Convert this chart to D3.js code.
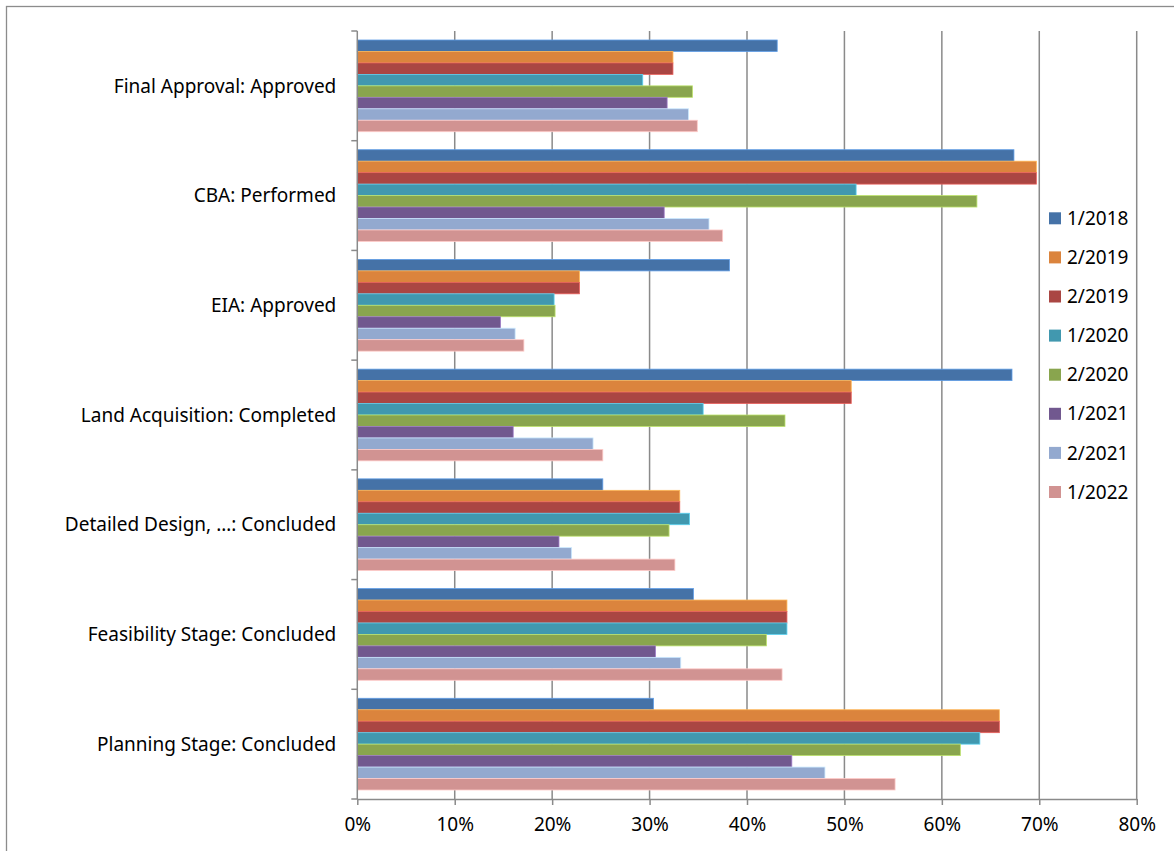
<!DOCTYPE html>
<html>
<head>
<meta charset="utf-8">
<script src="https://d3js.org/d3.v7.min.js"></script>
<style>
  body { margin: 0; background: #fff; }
  svg { display: block; font-family: "Noto Sans", sans-serif; }
</style>
</head>
<body>
<svg id="chart" width="1174" height="851"></svg>
<script>
// categories top to bottom
var categories = [
  "Final Approval: Approved",
  "CBA: Performed",
  "EIA: Approved",
  "Land Acquisition: Completed",
  "Detailed Design, …: Concluded",
  "Feasibility Stage: Concluded",
  "Planning Stage: Concluded"
];
var seriesNames = ["1/2018", "2/2019", "2/2019", "1/2020", "2/2020", "1/2021", "2/2021", "1/2022"];
var seriesColors = ["#4572A7", "#DB843D", "#AA4643", "#4198AF", "#89A54E", "#71588F", "#93A9CF", "#D19392"];

// percent values, one array per series, in category order
var s2018a = [43.1, 67.4, 38.2, 67.2, 25.2, 34.5, 30.4];
var s2019b = [32.4, 69.7, 22.8, 50.7, 33.1, 44.1, 65.9];
var s2019c = [32.4, 69.7, 22.8, 50.7, 33.1, 44.1, 65.9];
var s2020a = [29.3, 51.2, 20.2, 35.5, 34.1, 44.1, 63.9];
var s2020b = [34.4, 63.6, 20.3, 43.9, 32.0, 42.0, 61.9];
var s2021a = [31.8, 31.5, 14.7, 16.0, 20.7, 30.6, 44.6];
var s2021b = [34.0, 36.1, 16.2, 24.2, 22.0, 33.2, 48.0];
var s2022a = [34.9, 37.5, 17.1, 25.2, 32.6, 43.6, 55.2];
var seriesValues = [s2018a, s2019b, s2019c, s2020a, s2020b, s2021a, s2021b, s2022a];
var xTicks = [0, 10, 20, 30, 40, 50, 60, 70, 80];

var svg = d3.select("#chart");

// outer chart border
svg.append("rect")
  .attr("x", 6.5).attr("y", 6.5)
  .attr("width", 1200).attr("height", 900)
  .attr("fill", "none").attr("stroke", "#8c8c8c").attr("stroke-width", 1.3);

var plotLeft = 357.3, plotRight = 1136.7, plotTop = 31, plotBottom = 799;

var x = d3.scaleLinear().domain([0, 80]).range([plotLeft, plotRight]);
var y = d3.scaleBand().domain(categories).range([plotTop, plotBottom]).padding(0);
var ys = d3.scaleBand().domain(d3.range(seriesNames.length))
  .range([0, y.bandwidth()]).paddingInner(0).paddingOuter(0.785);

// gridlines
svg.append("g").selectAll("line").data(xTicks.slice(1)).join("line")
  .attr("x1", d => x(d)).attr("x2", d => x(d))
  .attr("y1", plotTop).attr("y2", plotBottom)
  .attr("stroke", "#8a8a8a").attr("stroke-width", 1.5);

// bars
var table = [];
categories.forEach(function(c, ci) {
  seriesValues.forEach(function(vals, si) {
    table.push({cat: c, s: si, v: vals[ci]});
  });
});
svg.append("g").selectAll("rect").data(table).join("rect")
  .attr("x", x(0))
  .attr("y", d => y(d.cat) + ys(d.s))
  .attr("width", d => x(d.v) - x(0))
  .attr("height", ys.bandwidth())
  .attr("fill", d => seriesColors[d.s])
  .attr("stroke", d => d3.color(seriesColors[d.s]).brighter(0.9))
  .attr("stroke-width", 0.8);

// x axis
var xAxis = svg.append("g").attr("transform", "translate(0," + plotBottom + ")")
  .call(d3.axisBottom(x).tickValues(xTicks).tickFormat(d => d + "%").tickSizeInner(6).tickSizeOuter(0).tickPadding(13));
xAxis.select(".domain").attr("stroke", "#8a8a8a").attr("stroke-width", 1.5);
xAxis.selectAll(".tick line").attr("stroke", "#8a8a8a").attr("stroke-width", 1.5);
xAxis.selectAll("text").attr("font-size", 19).attr("fill", "#000")
  .attr("font-family", "Noto Sans, sans-serif");

// y axis line and ticks between categories
var yEdges = categories.map(c => y(c)).concat([plotBottom]);
svg.append("line").attr("x1", plotLeft).attr("x2", plotLeft).attr("y1", plotTop).attr("y2", plotBottom)
  .attr("stroke", "#8a8a8a").attr("stroke-width", 1.5);
svg.append("g").selectAll("line").data(yEdges).join("line")
  .attr("x1", plotLeft - 6).attr("x2", plotLeft)
  .attr("y1", d => d).attr("y2", d => d)
  .attr("stroke", "#8a8a8a").attr("stroke-width", 1.5);

// category labels
svg.append("g").selectAll("text").data(categories).join("text")
  .attr("x", plotLeft - 21)
  .attr("y", d => y(d) + y.bandwidth() / 2)
  .attr("dy", "0.35em")
  .attr("text-anchor", "end")
  .attr("font-size", 19)
  .text(d => d);

// legend
var legend = svg.append("g").selectAll("g").data(seriesNames).join("g")
  .attr("transform", (d, i) => "translate(1049," + (218.3 + i * 39.1) + ")");
legend.append("rect")
  .attr("x", 0).attr("y", -6).attr("width", 12).attr("height", 12)
  .attr("fill", (d, i) => seriesColors[i]);
legend.append("text")
  .attr("x", 18).attr("dy", "0.35em")
  .attr("font-size", 19)
  .text(d => d);
</script>
</body>
</html>
